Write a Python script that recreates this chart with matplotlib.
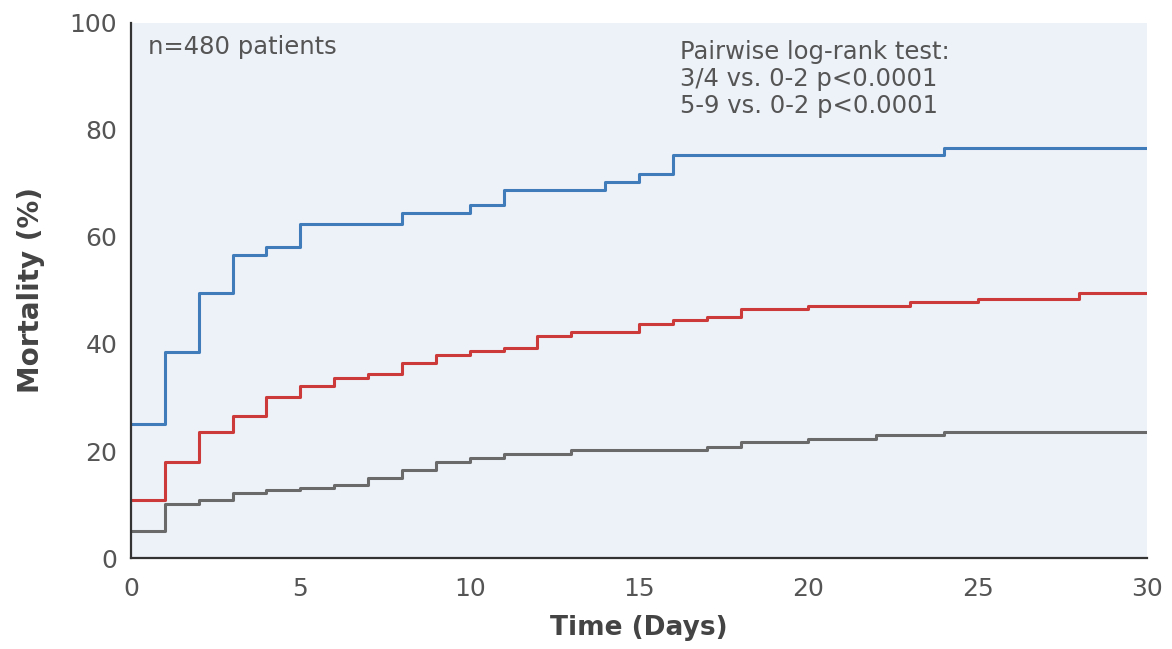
import matplotlib.pyplot as plt

plt.rcParams['font.family'] = ['DejaVu Sans']

# step curves: times where the step starts, cumulative mortality (%) from that time
t_high = [0, 1, 2, 3, 4, 5, 8, 10, 11, 14, 15, 16, 24, 30]
m_high = [25, 38.5, 49.5, 56.6, 58.2, 62.4, 64.5, 66, 68.8, 70.3, 71.8, 75.3, 76.6, 76.6]

t_mid = [0, 1, 2, 3, 4, 5, 6, 7, 8, 9, 10, 11, 12, 13, 15, 16, 17, 18, 20, 23, 25, 28, 30]
m_mid = [10.8, 18.0, 23.6, 26.5, 30.0, 32.1, 33.6, 34.3, 36.4, 37.9, 38.6, 39.3, 41.5,
         42.3, 43.7, 44.5, 45.1, 46.5, 47.1, 47.9, 48.5, 49.5, 49.5]

t_low = [0, 1, 2, 3, 4, 5, 6, 7, 8, 9, 10, 11, 13, 17, 18, 20, 22, 24, 30]
m_low = [5.1, 10.1, 10.8, 12.1, 12.7, 13.0, 13.6, 14.9, 16.4, 18.0, 18.6, 19.4, 20.2,
         20.8, 21.6, 22.2, 23.0, 23.6, 23.6]

x_ticks = [0, 5, 10, 15, 20, 25, 30]
y_ticks = [0, 20, 40, 60, 80, 100]

fig = plt.figure(figsize=(11.72, 6.49), dpi=100)
ax = fig.add_axes([0.1118, 0.1402, 0.8669, 0.8244])
ax.set_facecolor('#edf1f8')

ax.step(t_high, m_high, where='post', color='#3f7cb9', lw=2.2)
ax.step(t_mid, m_mid, where='post', color='#cc3a3a', lw=2.2)
ax.step(t_low, m_low, where='post', color='#6a6a6a', lw=2.2)

ax.set_xlim(0, 30)
ax.set_ylim(0, 100)
ax.set_xticks(x_ticks)
ax.set_yticks(y_ticks)
ax.tick_params(length=0, labelsize=18, colors='#555555')
ax.tick_params(axis='x', pad=14)
ax.tick_params(axis='y', pad=10)
for s in ['top', 'right']:
    ax.spines[s].set_visible(False)
for s in ['left', 'bottom']:
    ax.spines[s].set_color('#333333')
    ax.spines[s].set_linewidth(1.6)

ax.set_xlabel('Time (Days)', fontsize=19, color='#444444', fontweight='bold', labelpad=10)
ax.set_ylabel('Mortality (%)', fontsize=20, color='#444444', fontweight='bold', labelpad=18)

ax.text(0.5, 95.5, 'n=480 patients', fontsize=17.5, color='#555555', va='center')
ax.text(16.2, 94.6, 'Pairwise log-rank test:', fontsize=17.5, color='#555555', va='center')
ax.text(16.2, 89.5, '3/4 vs. 0-2 p<0.0001', fontsize=17.5, color='#555555', va='center')
ax.text(16.2, 84.5, '5-9 vs. 0-2 p<0.0001', fontsize=17.5, color='#555555', va='center')

fig.savefig('out.png', dpi=100)
